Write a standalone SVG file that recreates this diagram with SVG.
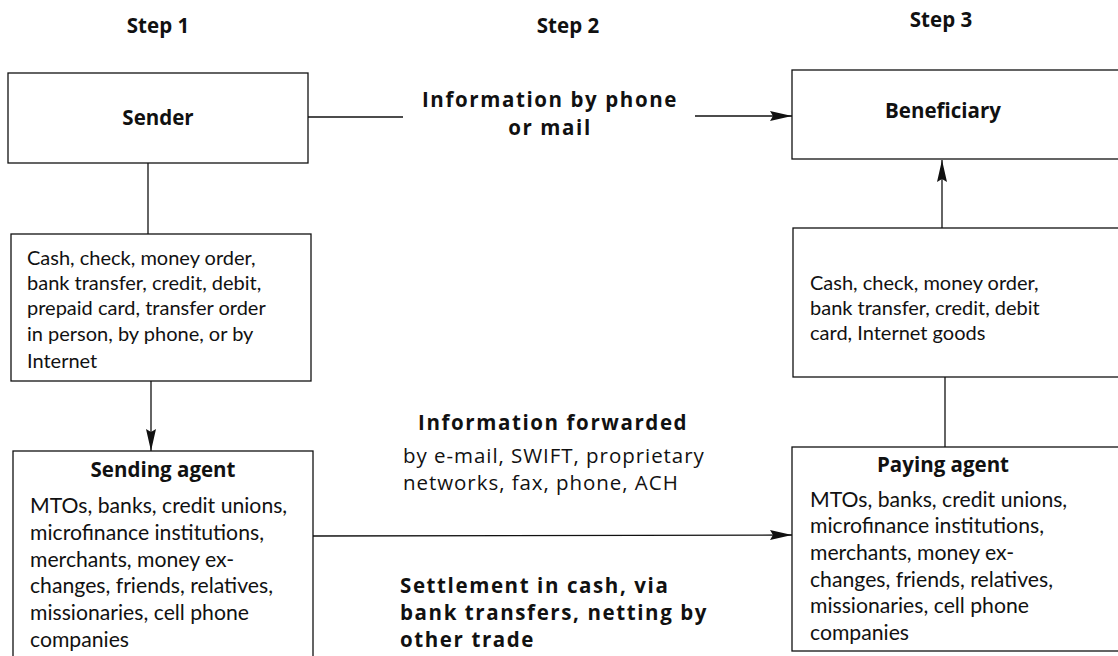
<svg xmlns="http://www.w3.org/2000/svg" width="1118" height="656" viewBox="0 0 1118 656">
<style>
.box{fill:#fff;stroke:#111;stroke-width:1.3}
.ln{fill:none;stroke:#111;stroke-width:1.3}
.b{font-family:"Open Sans",Lato,"Liberation Sans",sans-serif;font-weight:bold;font-size:20.5px;fill:#111}
.b2{font-family:"Open Sans",Lato,"Liberation Sans",sans-serif;font-weight:bold;font-size:20.5px;letter-spacing:1.6px;fill:#111}
.t{font-family:Lato,"Open Sans","Liberation Sans",sans-serif;font-size:20px;fill:#111}
.t2{font-family:Lato,"Open Sans","Liberation Sans",sans-serif;font-size:21.2px;fill:#111}
.t3{font-family:"Open Sans",Lato,"Liberation Sans",sans-serif;font-size:20.5px;letter-spacing:0.95px;fill:#111}
.c{text-anchor:middle}
</style>
<defs>
<marker id="ah" markerUnits="userSpaceOnUse" markerWidth="24" markerHeight="12" refX="22" refY="5" orient="auto">
<path d="M0,0 L22,5 L0,10 L3,5 z" fill="#111"/>
</marker>
</defs>
<g id="headers">
<text class="b c" x="158" y="33">Step 1</text>
<text class="b c" x="568" y="33">Step 2</text>
<text class="b c" x="941" y="27">Step 3</text>
</g>
<g id="connectors">
<line class="ln" x1="308" y1="117" x2="403" y2="117"/>
<line class="ln" x1="695" y1="116" x2="792" y2="116" marker-end="url(#ah)"/>
<line class="ln" x1="148" y1="163" x2="148" y2="234"/>
<line class="ln" x1="151" y1="381" x2="151" y2="451" marker-end="url(#ah)"/>
<line class="ln" x1="313" y1="536" x2="792" y2="535" marker-end="url(#ah)"/>
<line class="ln" x1="945" y1="377" x2="945" y2="447"/>
<line class="ln" x1="942" y1="228" x2="942" y2="160" marker-end="url(#ah)"/>
</g>
<g id="sender">
<rect class="box" x="8" y="73" width="300" height="90"/>
<text class="b c" x="158" y="125">Sender</text>
</g>
<g id="sender-methods">
<rect class="box" x="11" y="234" width="300" height="147"/>
<text class="t" x="27" y="265">Cash, check, money order,</text>
<text class="t" x="27" y="290">bank transfer, credit, debit,</text>
<text class="t" x="27" y="315">prepaid card, transfer order</text>
<text class="t" x="27" y="341">in person, by phone, or by</text>
<text class="t" x="27" y="368">Internet</text>
</g>
<g id="sending-agent">
<rect class="box" x="13" y="451" width="300" height="210"/>
<text class="b c" x="163" y="477">Sending agent</text>
<text class="t2" x="30" y="513">MTOs, banks, credit unions,</text>
<text class="t2" x="30" y="540">microfinance institutions,</text>
<text class="t2" x="30" y="567">merchants, money ex-</text>
<text class="t2" x="30" y="593">changes, friends, relatives,</text>
<text class="t2" x="30" y="620">missionaries, cell phone</text>
<text class="t2" x="30" y="647">companies</text>
</g>
<g id="info-phone">
<text class="b2 c" x="550" y="107">Information by phone</text>
<text class="b2 c" x="550" y="135">or mail</text>
</g>
<g id="info-forwarded">
<text class="b2" x="418" y="430">Information forwarded</text>
<text class="t3" x="403" y="463">by e-mail, SWIFT, proprietary</text>
<text class="t3" x="403" y="490">networks, fax, phone, ACH</text>
</g>
<g id="settlement">
<text class="b2" x="400" y="593">Settlement in cash, via</text>
<text class="b2" x="400" y="620">bank transfers, netting by</text>
<text class="b2" x="400" y="647">other trade</text>
</g>
<g id="beneficiary">
<rect class="box" x="792" y="70" width="330" height="89"/>
<text class="b c" x="943" y="118">Beneficiary</text>
</g>
<g id="beneficiary-methods">
<rect class="box" x="793" y="228" width="330" height="149"/>
<text class="t" x="810" y="290">Cash, check, money order,</text>
<text class="t" x="810" y="315">bank transfer, credit, debit</text>
<text class="t" x="810" y="340">card, Internet goods</text>
</g>
<g id="paying-agent">
<rect class="box" x="792" y="447" width="330" height="204"/>
<text class="b c" x="943" y="472">Paying agent</text>
<text class="t2" x="810" y="507">MTOs, banks, credit unions,</text>
<text class="t2" x="810" y="533">microfinance institutions,</text>
<text class="t2" x="810" y="560">merchants, money ex-</text>
<text class="t2" x="810" y="587">changes, friends, relatives,</text>
<text class="t2" x="810" y="613">missionaries, cell phone</text>
<text class="t2" x="810" y="640">companies</text>
</g>
</svg>
